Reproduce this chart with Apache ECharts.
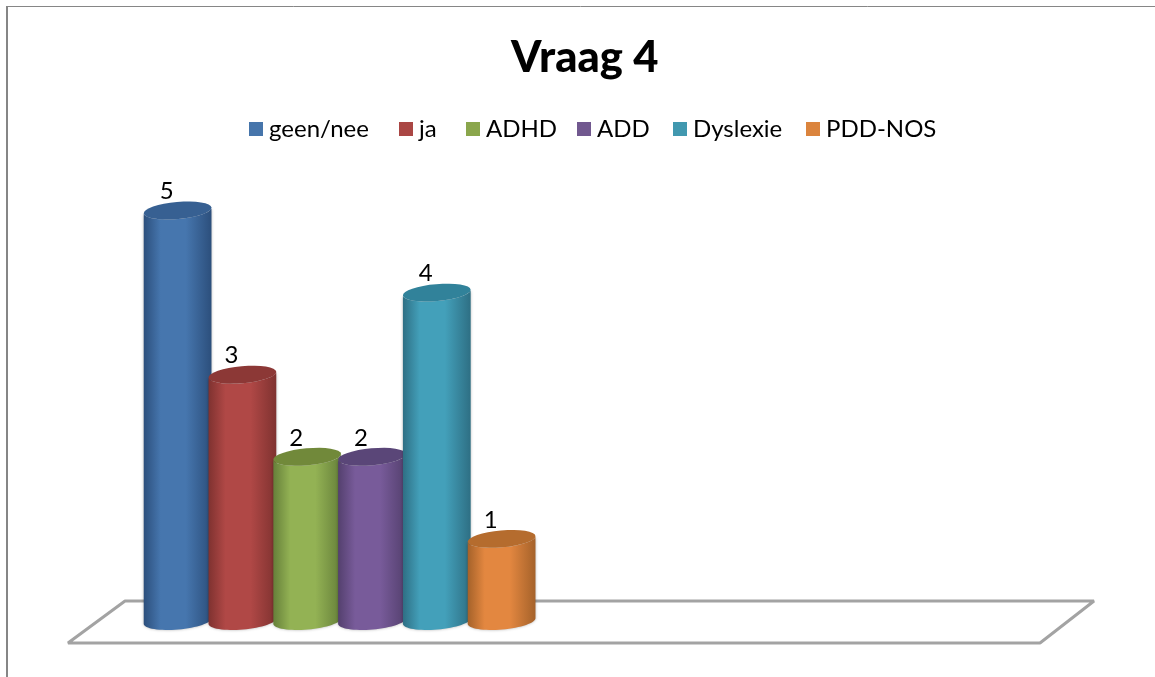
<!DOCTYPE html>
<html>
<head>
<meta charset="utf-8">
<style>html,body{margin:0;padding:0;background:#fff}#c{width:1155px;height:677px}</style>
<script src="https://cdn.jsdelivr.net/npm/echarts@6/dist/echarts.min.js"></script>
</head>
<body>
<div id="c"></div>
<script>
const categories = ['Vraag 4', ''];
const seriesNames = ['geen/nee', 'ja', 'ADHD', 'ADD', 'Dyslexie', 'PDD-NOS'];
const seriesValues = [5, 3, 2, 2, 4, 1];
const legendColors = ['#4675AB', '#AA4644', '#8AA64C', '#71588F', '#4198AF', '#DB843D'];
const legendLefts = [244, 394, 461, 572, 668, 801];
const bodyMid = ['#4676AE', '#B04846', '#93B254', '#785B9A', '#43A0BA', '#E38740'];
const bodyEdge = ['#2C4F7C', '#7F3230', '#66803A', '#54406E', '#2E6F84', '#A5622A'];
const capColors = ['#376092', '#8C3836', '#71893A', '#5A4678', '#31829A', '#B56C2E'];

const chart = echarts.init(document.getElementById('c'));
const RX = 34, RY = 8.5, TILT = -5 * Math.PI / 180;

function ell(cx, cy, t) {
  const x = RX * Math.cos(t), y = RY * Math.sin(t);
  return [cx + x * Math.cos(TILT) - y * Math.sin(TILT), cy + x * Math.sin(TILT) + y * Math.cos(TILT)];
}
function arc(cx, cy, from, to) {
  const pts = [];
  for (let i = 0; i <= 32; i++) pts.push(ell(cx, cy, from + (to - from) * i / 32));
  return pts;
}
function cylinder(params, api) {
  const idx = params.seriesIndex;
  const band = api.size([1, 0])[0];
  const shift = (idx - 2.5) * band * 2 / 15;
  const top = api.coord([api.value(0), api.value(1)]);
  const base = api.coord([api.value(0), 0]);
  const cx = top[0] + shift + 0.6;
  const side = arc(cx, base[1], Math.PI, 0).concat(arc(cx, top[1], 0, Math.PI));
  return {
    type: 'group',
    children: [
      {
        type: 'polygon',
        shape: { points: side },
        style: {
          fill: new echarts.graphic.LinearGradient(0, 0, 1, 0, [
            { offset: 0, color: bodyEdge[idx] },
            { offset: 0.25, color: bodyMid[idx] },
            { offset: 0.62, color: bodyMid[idx] },
            { offset: 1, color: bodyEdge[idx] }
          ]),
          shadowBlur: 3,
          shadowColor: 'rgba(0,0,0,0.3)'
        }
      },
      {
        type: 'polygon',
        shape: { points: arc(cx, top[1], 0, Math.PI * 2) },
        style: { fill: capColors[idx] }
      },
      {
        type: 'text',
        style: {
          text: String(api.value(1)),
          x: cx - 11,
          y: top[1] - 19,
          align: 'center',
          verticalAlign: 'middle',
          font: '24px Lato',
          fill: '#000'
        }
      }
    ]
  };
}
function floor(params, api) {
  const y = api.coord([0, 0])[1] + 1;
  const g = params.coordSys;
  const dx = 28, dy = 21;
  return {
    type: 'polygon',
    shape: { points: [
      [g.x - dx, y + dy], [g.x + g.width - dx, y + dy],
      [g.x + g.width + dx - 2, y - dy], [g.x + dx + 1, y - dy]
    ] },
    style: { fill: '#fff', stroke: '#A3A3A3', lineWidth: 3, lineJoin: 'bevel' }
  };
}

const series = seriesNames.map((name, i) => ({
  name,
  type: 'custom',
  coordinateSystem: 'cartesian2d',
  renderItem: cylinder,
  clip: false,
  z: 3,
  itemStyle: { color: legendColors[i] },
  encode: { x: 0, y: 1 },
  data: [[0, seriesValues[i]]]
}));
series.push({
  type: 'custom',
  name: 'floor',
  coordinateSystem: 'cartesian2d',
  renderItem: floor,
  clip: false,
  silent: true,
  z: 1,
  data: [[0, 0]]
});

chart.setOption({
  animation: false,
  backgroundColor: '#fff',
  title: {
    text: 'Vraag 4',
    left: 506,
    top: 31,
    textStyle: { fontFamily: 'Lato', fontSize: 43.5, fontWeight: 900, color: '#000' }
  },
  legend: seriesNames.map((name, i) => ({
    data: [name],
    left: legendLefts[i],
    top: 112,
    icon: 'rect',
    itemWidth: 14,
    itemHeight: 14,
    textStyle: { fontFamily: 'Lato', fontSize: 24, color: '#000', padding: [0, 0, 0, 1] }
  })),
  grid: { left: 96, width: 972, top: 210.5, height: 410.5 },
  xAxis: { type: 'category', data: categories, show: false },
  yAxis: { type: 'value', min: 0, max: 5, show: false },
  graphic: [
    { type: 'line', silent: true, shape: { x1: 6, y1: 6.5, x2: 1155, y2: 6.5 }, style: { stroke: '#868686', lineWidth: 1 } },
    { type: 'line', silent: true, shape: { x1: 7, y1: 6, x2: 7, y2: 677 }, style: { stroke: '#868686', lineWidth: 2 } }
  ],
  series
});
</script>
</body>
</html>
